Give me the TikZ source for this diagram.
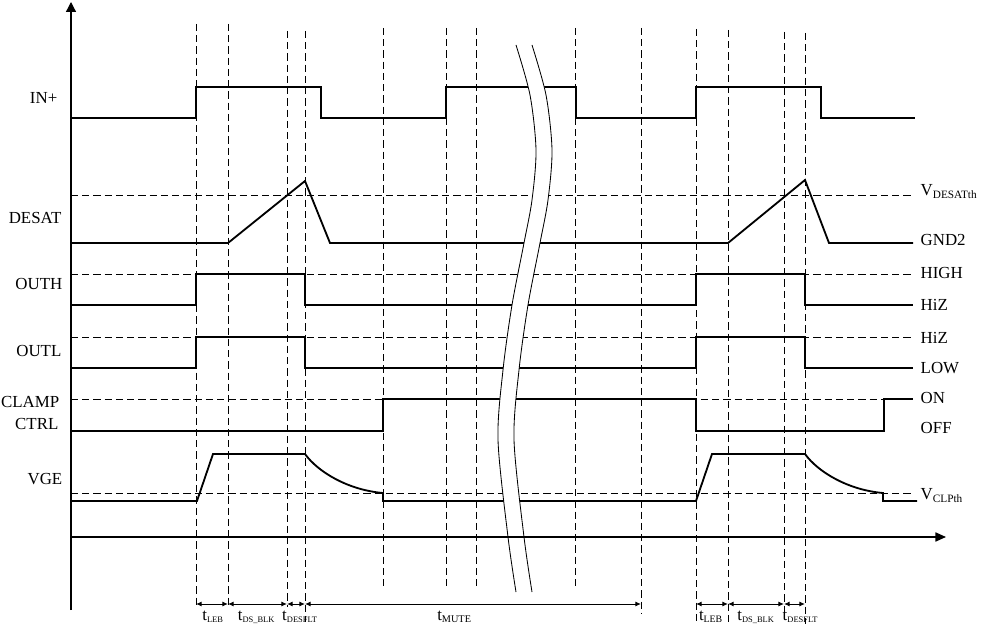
\documentclass[tikz,border=0pt]{standalone}
\usepackage{fontspec}
\setmainfont{Liberation Serif}
\usetikzlibrary{arrows.meta}

% maly dolni index
\newcommand{\subtx}[2][6]{\textsubscript{\fontsize{#1}{#1}\selectfont #2}}

\begin{document}
\begin{tikzpicture}[x=0.025cm,y=-0.025cm,
    sig/.style={line width=1.3pt,line join=miter},
    guide/.style={line width=0.6pt,dash pattern=on 5pt off 3pt},
    axisline/.style={line width=0.9pt},
    brk/.style={line width=0.6pt},
    lbl/.style={font=\fontsize{12}{14}\selectfont,inner sep=1pt},
    tspan/.style={line width=0.7pt,{Latex[length=4pt,width=3.5pt]}-{Latex[length=4pt,width=3.5pt]}}]
        \useasboundingbox (0,0) rectangle (982,629);

        % prahove urovne
        \draw[guide] (71,195) -- (913,195);
        \draw[guide] (71,274) -- (913,274);
        \draw[guide] (71,337) -- (913,337);
        \draw[guide] (71,399) -- (913,399);
        \draw[guide] (71,493) -- (913,493);

        % casove znacky
        \draw[guide] (196,24) -- (196,607);
        \draw[guide] (228,24) -- (228,607);
        \draw[guide] (287,31) -- (287,607);
        \draw[guide] (305,31) -- (305,622);
        \draw[guide] (383,28) -- (383,587);
        \draw[guide] (446,28) -- (446,587);
        \draw[guide] (476,28) -- (476,587);
        \draw[guide] (575,28) -- (575,587);
        \draw[guide] (641,28) -- (641,613);
        \draw[guide] (696,29) -- (696,622);
        \draw[guide] (728,30) -- (728,622);
        \draw[guide] (784,32) -- (784,613);
        \draw[guide] (805,33) -- (805,624);

        % IN+
        \draw[sig] (71,118) -- (196,118) -- (196,87) -- (321,87) -- (321,118) -- (446,118) -- (446,87)
            -- (576,87) -- (576,118) -- (696,118) -- (696,87) -- (821,87) -- (821,118) -- (915,118);

        % DESAT
        \draw[sig] (71,243) -- (228,243) -- (305,181) -- (330,243) -- (728,243) -- (805,180)
            -- (829,243) -- (913,243);

        % OUTH
        \draw[sig] (71,305) -- (196,305) -- (196,274) -- (305,274) -- (305,305) -- (696,305)
            -- (696,274) -- (805,274) -- (805,305) -- (913,305);

        % OUTL
        \draw[sig] (71,368) -- (196,368) -- (196,337) -- (305,337) -- (305,368) -- (696,368)
            -- (696,337) -- (805,337) -- (805,368) -- (913,368);

        % CLAMP CTRL
        \draw[sig] (71,431) -- (383,431) -- (383,399) -- (696,399) -- (696,431) -- (884,431)
            -- (884,399) -- (913,399);

        % VGE
        \draw[sig] (71,501) -- (197,501) -- (213,454) -- (305,454) .. controls (318,472) and (348,490) .. (383,493)
            -- (383,501) -- (696,501) -- (712,454) -- (805,454) .. controls (818,472) and (848,490) .. (883,493)
            -- (883,501) -- (917,501);

        % preruseni casove osy
        \path[fill=white] plot[smooth] coordinates {(516,45) (530,95) (536,150) (532,200) (524,243) (512,305)
            (503,370) (498,440) (508,537) (516,592)}
            -- plot[smooth] coordinates {(532,592) (524,537) (514,440) (519,370) (528,305) (540,243)
            (548,200) (552,150) (546,95) (532,45)} -- cycle;
        \draw[brk] plot[smooth] coordinates {(516,45) (530,95) (536,150) (532,200) (524,243) (512,305)
            (503,370) (498,440) (508,537) (516,592)};
        \draw[brk] plot[smooth] coordinates {(532,45) (546,95) (552,150) (548,200) (540,243) (528,305)
            (519,370) (514,440) (524,537) (532,592)};

        % osy
        \draw[axisline,-{Triangle[length=7pt,width=7pt]}] (71,610) -- (71,2);
        \draw[axisline,-{Triangle[length=7.5pt,width=6.5pt]}] (71,537) -- (946,537);

        % nazvy signalu
        \node[lbl,anchor=east] (nin) at (59,98) {IN+};
        \node[lbl,anchor=east] (ndesat) at (63,218) {DESAT};
        \node[lbl,anchor=east] (nouth) at (64,283.5) {OUTH};
        \node[lbl,anchor=east] (noutl) at (63,351) {OUTL};
        \node[lbl,anchor=east] (nclamp) at (61,402) {CLAMP};
        \node[lbl,anchor=east] (nctrl) at (60,424) {CTRL};
        \node[lbl,anchor=east] (nvge) at (64,479.5) {VGE};

        % urovne vpravo
        \node[lbl,anchor=base west] (vdesat) at (919,196) {V\subtx[8]{DESATth}};
        \node[lbl,anchor=west] (gnd) at (919,240) {GND2};
        \node[lbl,anchor=west] (high) at (919,273) {HIGH};
        \node[lbl,anchor=west] (hiz1) at (919,305) {HiZ};
        \node[lbl,anchor=west] (hiz2) at (919,338) {HiZ};
        \node[lbl,anchor=west] (low) at (919,368) {LOW};
        \node[lbl,anchor=west] (on) at (919,398) {ON};
        \node[lbl,anchor=west] (off) at (919,428) {OFF};
        \node[lbl,anchor=base west] (vclp) at (919,500) {V\subtx[8]{CLPth}};

        % casove useky
        \coordinate (ta) at (196,604);
        \coordinate (tb) at (228,604);
        \coordinate (tc) at (287,604);
        \coordinate (td) at (305,604);
        \coordinate (te) at (641,604);
        \coordinate (ua) at (696,604);
        \coordinate (ub) at (728,604);
        \coordinate (uc) at (784,604);
        \coordinate (ud) at (805,604);
        \draw[tspan] (ta) -- (tb);
        \draw[tspan] (tb) -- (tc);
        \draw[tspan] (tc) -- (td);
        \draw[tspan] (td) -- (te);
        \draw[tspan] (ua) -- (ub);
        \draw[tspan] (ub) -- (uc);
        \draw[tspan] (uc) -- (ud);
        \node[lbl,anchor=base] (leb1) at (213,620) {t\subtx{LEB}};
        \node[lbl,anchor=base] (blk1) at (256.5,620) {t\subtx{DS\_BLK}};
        \node[lbl,anchor=base] (flt1) at (300,620) {t\subtx{DESFLT}};
        \node[lbl,anchor=base] (mute) at (454.5,620) {t\subtx[7.3]{MUTE}};
        \node[lbl,anchor=base] (leb2) at (711,620) {t\subtx[7]{LEB}};
        \node[lbl,anchor=base] (blk2) at (756,620) {t\subtx{DS\_BLK}};
        \node[lbl,anchor=base] (flt2) at (800.5,620) {t\subtx{DESFLT}};
    \end{tikzpicture}
\end{document}
